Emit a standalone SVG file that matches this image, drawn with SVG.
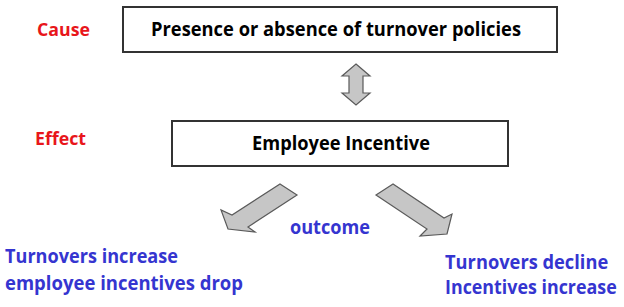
<svg xmlns="http://www.w3.org/2000/svg" width="624" height="307" viewBox="0 0 624 307">
<style>
.box{fill:#fff;stroke:#333;stroke-width:2}
.t{font-family:"Open Sans",Lato,"Liberation Sans",sans-serif;font-weight:bold}
.blk{fill:#000;font-size:19px}
.red{fill:#e8161b;font-size:18px}
.blue{fill:#3535d0;font-size:19px}
.arr{fill:#c6c6c6;stroke:#5a5a5a;stroke-width:1.2;stroke-linejoin:miter}
</style>
<rect width="624" height="307" fill="#fff"/>
<text class="t red" x="37" y="36" textLength="53" lengthAdjust="spacingAndGlyphs">Cause</text>
<text class="t red" x="35" y="145" textLength="51" lengthAdjust="spacingAndGlyphs">Effect</text>
<g id="cause">
<rect class="box" x="123" y="7" width="434" height="45"/>
<text class="t blk" x="151" y="36" textLength="370" lengthAdjust="spacingAndGlyphs">Presence or absence of turnover policies</text>
</g>
<g id="effect">
<rect class="box" x="172" y="121" width="336" height="45"/>
<text class="t blk" x="252" y="150" textLength="178" lengthAdjust="spacingAndGlyphs">Employee Incentive</text>
</g>
<g id="connectors">
<polygon class="arr" points="356,64 370,76 363,76 363,93 370,93 356,105 342,93 349,93 349,76 342,76"/>
<polygon class="arr" points="280,184 297,195 248,227 255,232 228,229 221,210 232,215"/>
<polygon class="arr" points="393,184 376,195 427,229 420,236 447,234 452,214 444,218"/>
</g>
<g id="outcomes">
<text class="t blue" x="290" y="234" textLength="80" lengthAdjust="spacingAndGlyphs">outcome</text>
<text class="t blue" x="5" y="263" textLength="173" lengthAdjust="spacingAndGlyphs">Turnovers increase</text>
<text class="t blue" x="5" y="290" textLength="238" lengthAdjust="spacingAndGlyphs">employee incentives drop</text>
<text class="t blue" transform="translate(445,269) scale(0.85,1)" x="0" y="0" textLength="192" lengthAdjust="spacingAndGlyphs">Turnovers decline</text>
<text class="t blue" transform="translate(445,294) scale(0.85,1)" x="0" y="0" textLength="202" lengthAdjust="spacingAndGlyphs">Incentives increase</text>
</g>
</svg>
